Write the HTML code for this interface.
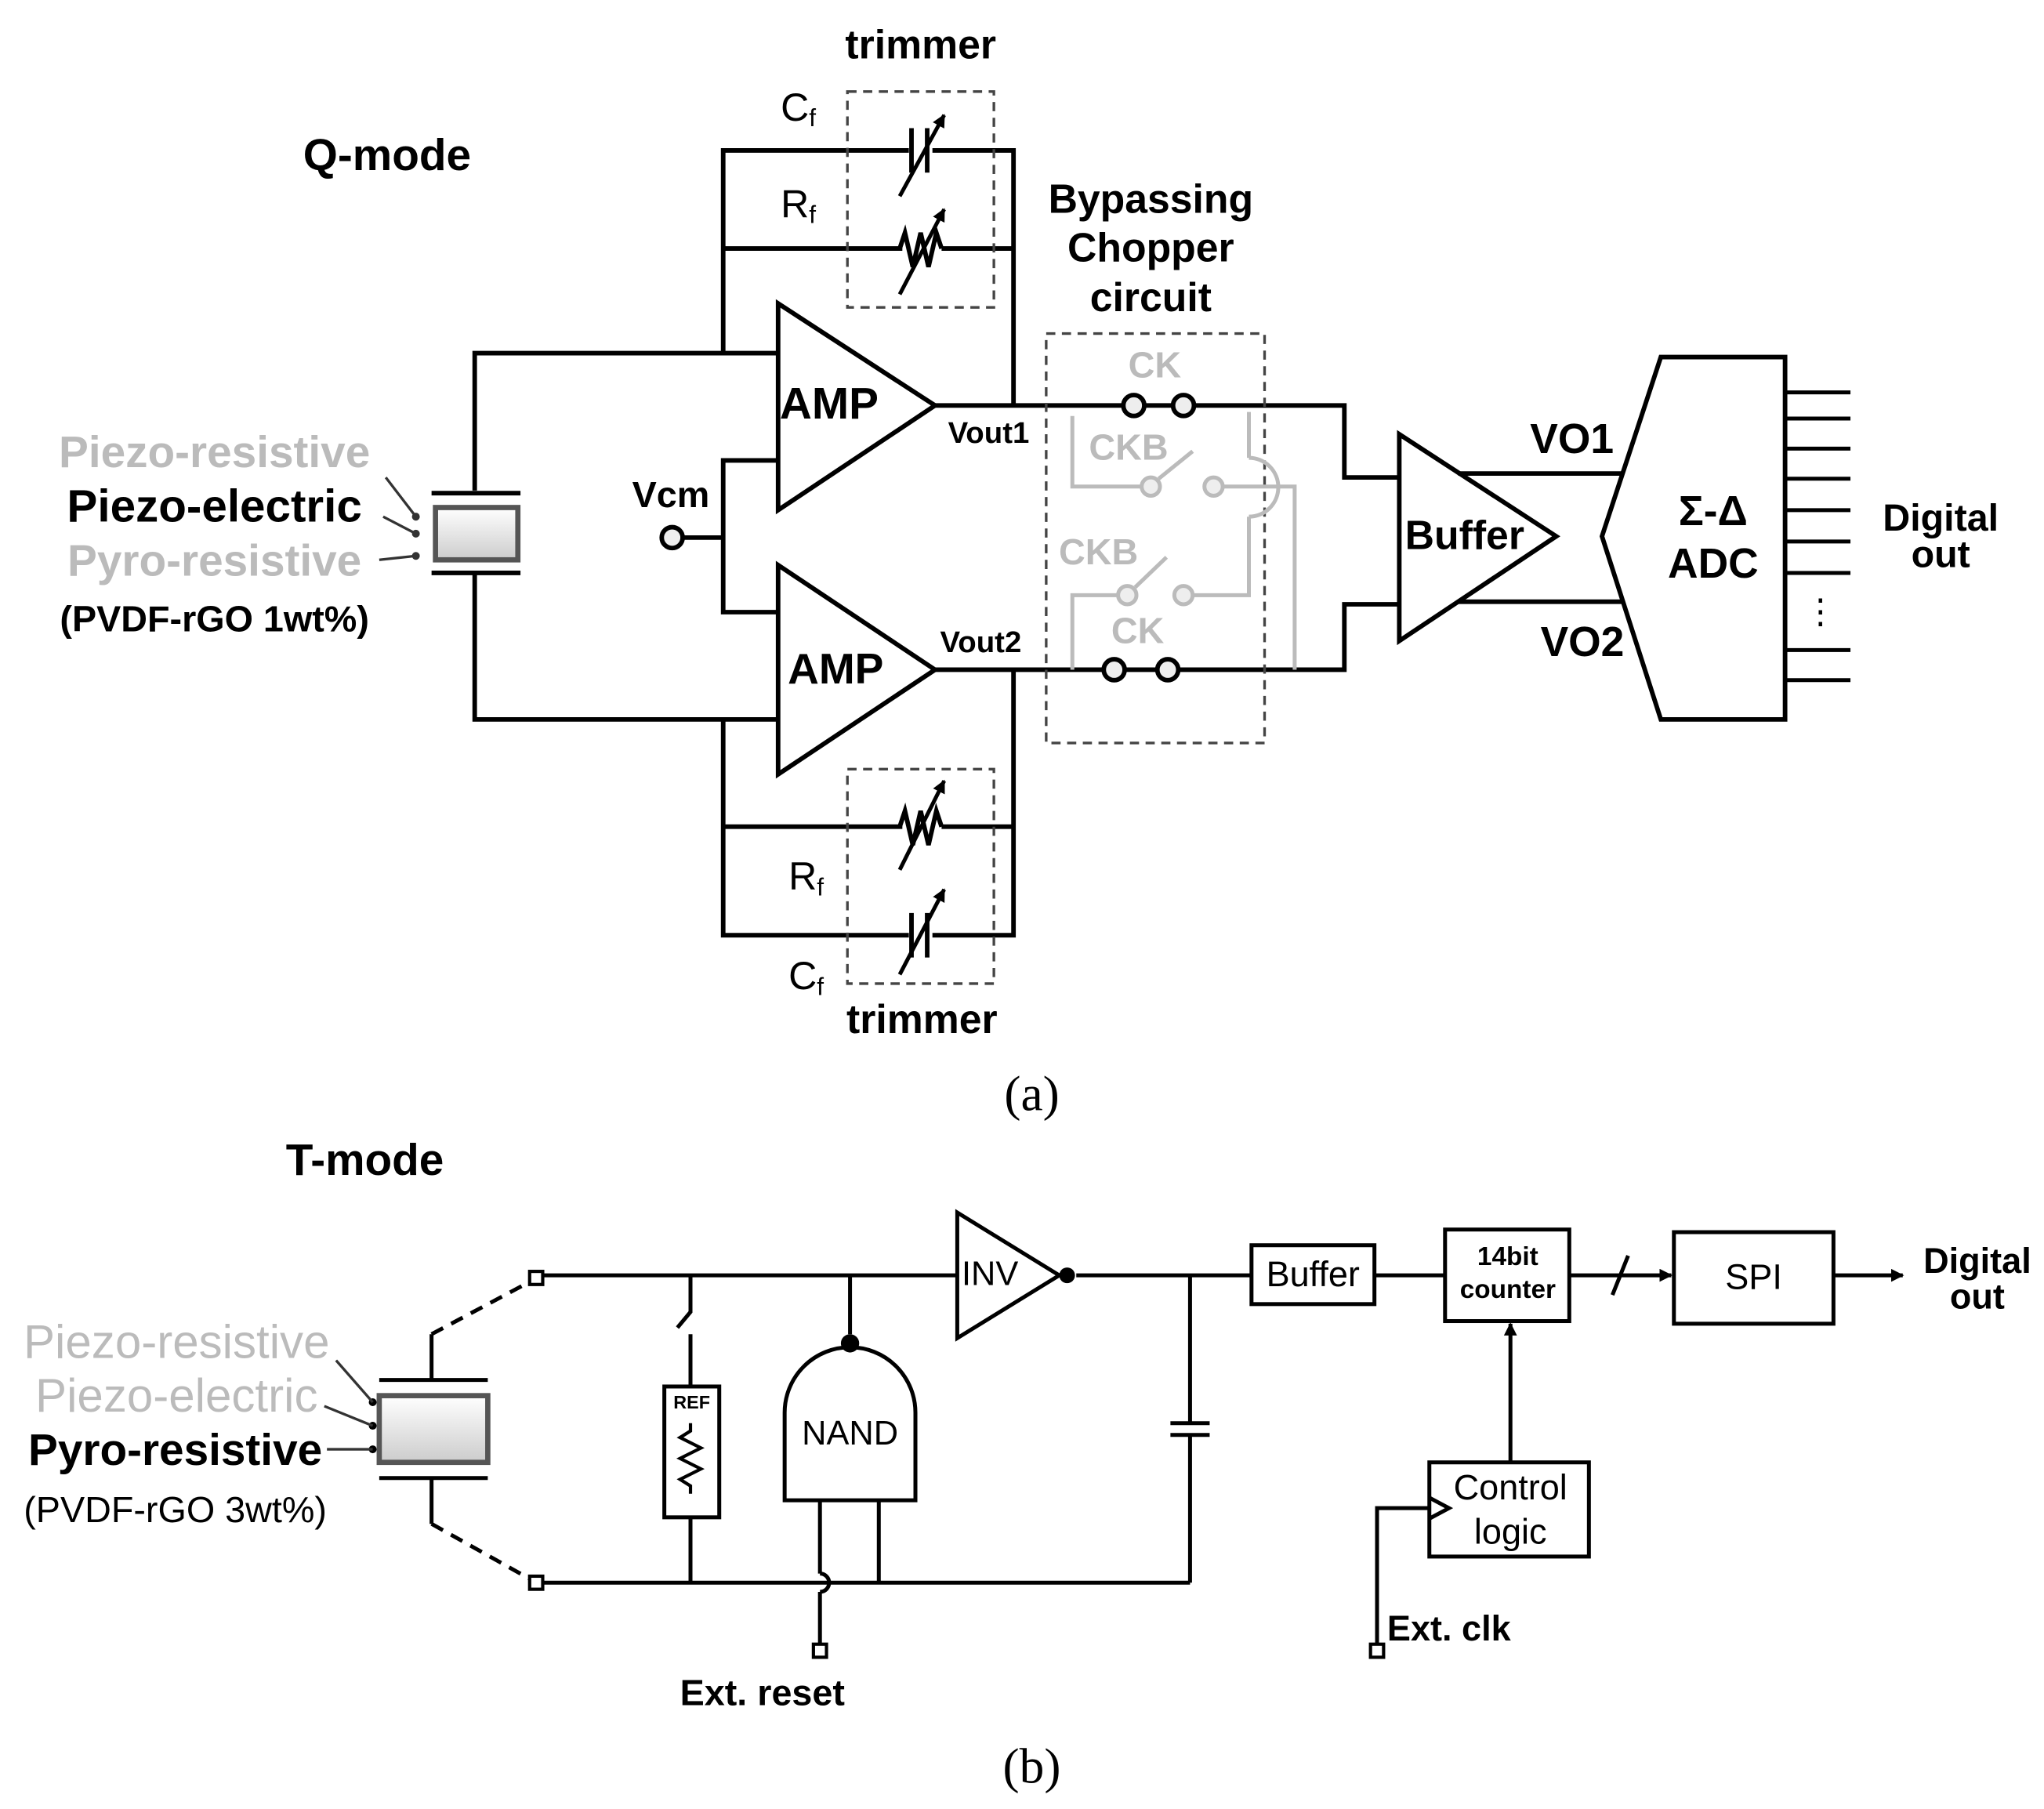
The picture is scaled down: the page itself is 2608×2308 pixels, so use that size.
<!DOCTYPE html>
<html><head><meta charset="utf-8"><style>html,body{margin:0;padding:0;background:#fff}svg{display:block}</style></head><body>
<svg width="2608" height="2308" viewBox="0 0 1563 1383" preserveAspectRatio="none" xmlns="http://www.w3.org/2000/svg" font-family="Liberation Sans, sans-serif">
<defs><linearGradient id="g" x1="0" y1="0" x2="0" y2="1"><stop offset="0" stop-color="#fff"/><stop offset="1" stop-color="#ccc"/></linearGradient>
<marker id="ar" markerWidth="10" markerHeight="10" refX="9" refY="5" orient="auto" markerUnits="userSpaceOnUse"><path d="M0,0 L10,5 L0,10z" fill="#000"/></marker></defs>
<rect width="1563" height="1383" fill="#fff"/>
<g fill="none" stroke="#000" stroke-width="3.5">
<polyline points="553,270 553,115 775,115 775,310"/>
<line x1="553" y1="190" x2="775" y2="190"/>
<polygon points="595,232 595,390 715,310"/>
<polygon points="595,432 595,592 715,512"/>
<polyline points="363,375 363,270 595,270"/>
<polyline points="363,438 363,550 595,550"/>
<polyline points="595,352 553,352 553,468 595,468"/>
<line x1="522" y1="411" x2="553" y2="411"/>
<line x1="715" y1="310" x2="859" y2="310"/><line x1="875" y1="310" x2="897" y2="310"/><polyline points="913,310 1028,310 1028,365 1070,365"/>
<line x1="715" y1="512" x2="844" y2="512"/><line x1="860" y1="512" x2="885" y2="512"/><polyline points="901,512 1028,512 1028,462 1070,462"/>
<polyline points="553,550 553,715 775,715 775,512"/>
<line x1="553" y1="632" x2="775" y2="632"/>
<polygon points="1070,332 1070,490 1190,410"/>
<line x1="1115" y1="362" x2="1240" y2="362"/><line x1="1115" y1="460" x2="1240" y2="460"/>
<polygon points="1270,273 1365,273 1365,550 1270,550 1225,410"/>
<g stroke-width="3"><line x1="1365" y1="300" x2="1415" y2="300"/><line x1="1365" y1="320" x2="1415" y2="320"/><line x1="1365" y1="343" x2="1415" y2="343"/><line x1="1365" y1="366" x2="1415" y2="366"/><line x1="1365" y1="390" x2="1415" y2="390"/><line x1="1365" y1="414" x2="1415" y2="414"/><line x1="1365" y1="438" x2="1415" y2="438"/><line x1="1365" y1="497" x2="1415" y2="497"/><line x1="1365" y1="520" x2="1415" y2="520"/></g>
<line x1="330" y1="377" x2="398" y2="377"/><line x1="330" y1="438" x2="398" y2="438"/>
</g>
<rect x="333" y="388" width="63" height="40" fill="url(#g)" stroke="#555" stroke-width="4"/>
<g stroke="#333" stroke-width="2" fill="none"><line x1="295" y1="365" x2="318" y2="395"/><line x1="293" y1="395" x2="318" y2="408"/><line x1="290" y1="428" x2="318" y2="425"/></g>
<g fill="#333"><circle cx="318" cy="395" r="3"/><circle cx="318" cy="408" r="3"/><circle cx="318" cy="425" r="3"/></g>
<g stroke="#000" stroke-width="3.5" fill="#fff">
<rect x="695" y="98" width="18" height="34" stroke="none"/><line x1="697" y1="98" x2="697" y2="132"/><line x1="709" y1="98" x2="709" y2="132"/>
<rect x="690" y="174" width="30" height="32" stroke="none"/><polyline fill="none" points="688,190 692,178 698,204 704,178 710,204 716,178 720,190"/>
<rect x="690" y="616" width="30" height="32" stroke="none"/><polyline fill="none" points="688,632 692,620 698,646 704,620 710,646 716,620 720,632"/>
<rect x="695" y="698" width="18" height="34" stroke="none"/><line x1="697" y1="698" x2="697" y2="732"/><line x1="709" y1="698" x2="709" y2="732"/>
</g>
<g stroke="#000" stroke-width="3" marker-end="url(#ar)"><line x1="688" y1="150" x2="722" y2="88"/><line x1="688" y1="225" x2="722" y2="160"/><line x1="688" y1="665" x2="722" y2="597"/><line x1="688" y1="745" x2="722" y2="680"/></g>
<g fill="none" stroke="#444" stroke-width="2" stroke-dasharray="7,5"><rect x="648" y="70" width="112" height="165"/><rect x="648" y="588" width="112" height="164"/><rect x="800" y="255" width="167" height="313"/></g>
<g fill="none" stroke="#bbb" stroke-width="3"><polyline points="820,318 820,372 872,372"/><line x1="886" y1="366" x2="912" y2="345"/><polyline points="936,372 990,372 990,512"/><polyline points="955,315 955,350"/><path d="M955,350 A22,22 0 0 1 955,395"/><polyline points="955,395 955,455 913,455"/><line x1="868" y1="449" x2="892" y2="426"/><polyline points="854,455 820,455 820,512"/>
<circle cx="880" cy="372" r="7" fill="#eee"/><circle cx="928" cy="372" r="7" fill="#eee"/><circle cx="862" cy="455" r="7" fill="#eee"/><circle cx="905" cy="455" r="7" fill="#eee"/></g>
<g fill="#eee" stroke="#000" stroke-width="3.5"><circle cx="867" cy="310" r="8"/><circle cx="905" cy="310" r="8"/><circle cx="852" cy="512" r="8"/><circle cx="893" cy="512" r="8"/><circle cx="514" cy="411" r="8"/></g>
<g font-weight="bold" text-anchor="middle" dominant-baseline="central">
<text x="704" y="34" font-size="31">trimmer</text><text x="705" y="779" font-size="31">trimmer</text>
<text x="296" y="119" font-size="34">Q-mode</text>
<text x="880" y="152" font-size="31">Bypassing</text><text x="880" y="189" font-size="31">Chopper</text><text x="880" y="227" font-size="31">circuit</text>
<text x="634" y="309" font-size="34">AMP</text><text x="639" y="511" font-size="33">AMP</text>
<text x="513" y="378" font-size="28">Vcm</text>
<text x="756" y="331" font-size="23">Vout1</text><text x="750" y="491" font-size="23">Vout2</text>
<text x="1120" y="409" font-size="31">Buffer</text>
<text x="1202" y="336" font-size="32">VO1</text><text x="1210" y="491" font-size="32">VO2</text>
<text x="1310" y="391" font-size="32">Σ-Δ</text><text x="1310" y="431" font-size="32">ADC</text>
<text x="1484" y="396" font-size="29">Digital</text><text x="1484" y="424" font-size="29">out</text>
<text x="164" y="346" font-size="34" fill="#bbb">Piezo-resistive</text>
<text x="164" y="387" font-size="35">Piezo-electric</text>
<text x="164" y="429" font-size="34" fill="#bbb">Pyro-resistive</text>
<text x="164" y="473" font-size="28">(PVDF-rGO 1wt%)</text>
<text x="883" y="279" font-size="28" fill="#bbb">CK</text>
<text x="863" y="342" font-size="28" fill="#bbb">CKB</text>
<text x="840" y="422" font-size="28" fill="#bbb">CKB</text>
<text x="870" y="482" font-size="28" fill="#bbb">CK</text>
<text x="1392" y="468" font-size="26" font-weight="normal">⋮</text>
</g>
<g font-size="30" dominant-baseline="central"><text x="597" y="82">C<tspan font-size="19" dy="8">f</tspan></text><text x="597" y="156">R<tspan font-size="19" dy="8">f</tspan></text><text x="603" y="670">R<tspan font-size="19" dy="8">f</tspan></text><text x="603" y="746">C<tspan font-size="19" dy="8">f</tspan></text></g>
<text x="789" y="836" font-size="38" font-family="Liberation Serif, serif" text-anchor="middle" dominant-baseline="central">(a)</text>

<g fill="none" stroke="#000" stroke-width="3">
<line x1="415" y1="975" x2="732" y2="975"/>
<line x1="415" y1="1210" x2="910" y2="1210"/>
<polyline points="528,975 528,1003 518,1015"/><line x1="528" y1="1020" x2="528" y2="1060"/>
<line x1="528" y1="1160" x2="528" y2="1210"/>
<line x1="650" y1="975" x2="650" y2="1020"/>
<path d="M600,1147 L600,1080 A50,50 0 0 1 700,1080 L700,1147 Z"/>
<polyline points="627,1147 627,1203"/><path d="M627,1203 A7,7 0 0 1 627,1217"/><line x1="627" y1="1217" x2="627" y2="1257"/>
<line x1="672" y1="1147" x2="672" y2="1210"/>
<polygon points="732,927 732,1023 810,975"/>
<line x1="823" y1="975" x2="957" y2="975"/>
<polyline points="910,975 910,1088"/><line x1="895" y1="1088" x2="925" y2="1088"/><line x1="895" y1="1097" x2="925" y2="1097"/><polyline points="910,1097 910,1210"/>
<rect x="957" y="952" width="94" height="45"/>
<line x1="1051" y1="975" x2="1105" y2="975"/>
<rect x="1105" y="940" width="95" height="70"/>
<line x1="1200" y1="975" x2="1278" y2="975" marker-end="url(#ar)"/><line x1="1233" y1="990" x2="1245" y2="960"/>
<rect x="1280" y="942" width="122" height="70"/>
<line x1="1402" y1="975" x2="1455" y2="975" marker-end="url(#ar)"/>
<rect x="1093" y="1118" width="122" height="72"/>
<line x1="1155" y1="1118" x2="1155" y2="1012" marker-end="url(#ar)"/>
<polyline points="1093,1145 1108,1153 1093,1161"/>
<polyline points="1093,1153 1053,1153 1053,1257"/>
<rect x="508" y="1060" width="42" height="100"/>
<polyline stroke-width="2.5" points="528,1088 528,1094 520,1099 536,1107 520,1115 536,1123 520,1131 528,1136 528,1142"/>
<line x1="330" y1="1020" x2="330" y2="1055"/><line x1="330" y1="1130" x2="330" y2="1165"/>
<line x1="290" y1="1055" x2="373" y2="1055"/><line x1="290" y1="1130" x2="373" y2="1130"/>
<line x1="330" y1="1020" x2="405" y2="980" stroke-dasharray="10,7"/><line x1="330" y1="1165" x2="405" y2="1207" stroke-dasharray="10,7"/>
</g>
<rect x="290" y="1067" width="83" height="51" fill="url(#g)" stroke="#555" stroke-width="4"/>
<g fill="#fff" stroke="#000" stroke-width="2.5"><rect x="405" y="972" width="10" height="10"/><rect x="405" y="1205" width="10" height="10"/><rect x="622" y="1257" width="10" height="10"/><rect x="1048" y="1257" width="10" height="10"/></g>
<g fill="#000"><circle cx="650" cy="1027" r="7"/><circle cx="816" cy="975" r="6"/><circle cx="285" cy="1072" r="3"/><circle cx="285" cy="1090" r="3"/><circle cx="285" cy="1108" r="3"/></g>
<g stroke="#333" stroke-width="2"><line x1="257" y1="1040" x2="285" y2="1072"/><line x1="248" y1="1075" x2="285" y2="1090"/><line x1="250" y1="1108" x2="285" y2="1108"/></g>
<g text-anchor="middle" dominant-baseline="central">
<text x="279" y="887" font-size="34" font-weight="bold">T-mode</text>
<text x="135" y="1026" font-size="36" fill="#bbb">Piezo-resistive</text>
<text x="135" y="1067" font-size="36" fill="#bbb">Piezo-electric</text>
<text x="134" y="1109" font-size="34" font-weight="bold">Pyro-resistive</text>
<text x="134" y="1154" font-size="28">(PVDF-rGO 3wt%)</text>
<text x="529" y="1072" font-size="14" font-weight="bold">REF</text>
<text x="650" y="1096" font-size="26">NAND</text>
<text x="757" y="974" font-size="26">INV</text>
<text x="1004" y="974" font-size="27">Buffer</text>
<text x="1153" y="961" font-size="20" font-weight="bold">14bit</text><text x="1153" y="986" font-size="20" font-weight="bold">counter</text>
<text x="1341" y="976" font-size="27">SPI</text>
<text x="1512" y="964" font-size="27" font-weight="bold">Digital</text><text x="1512" y="991" font-size="27" font-weight="bold">out</text>
<text x="1155" y="1137" font-size="27">Control</text><text x="1155" y="1171" font-size="27">logic</text>
<text x="1108" y="1245" font-size="27" font-weight="bold">Ext. clk</text>
<text x="583" y="1294" font-size="28" font-weight="bold">Ext. reset</text>
<text x="789" y="1350" font-size="38" font-family="Liberation Serif, serif">(b)</text>
</g>
</svg>
</body></html>
